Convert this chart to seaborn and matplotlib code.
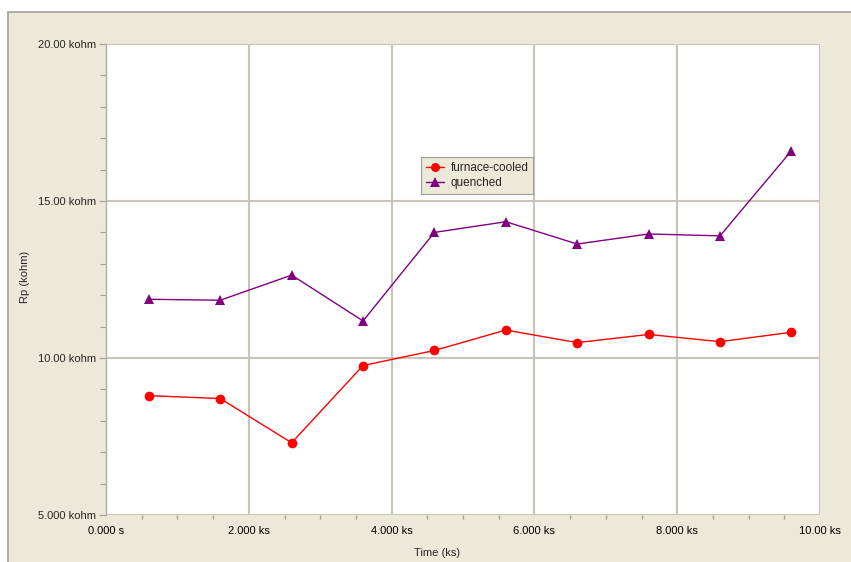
import numpy as np
import pandas as pd
import seaborn as sns
import matplotlib.pyplot as plt
from matplotlib.patches import Rectangle
from matplotlib.lines import Line2D
from matplotlib.ticker import MultipleLocator

# time in ks, resistance in kohm
time_ks = [0.6, 1.6, 2.6, 3.6, 4.6, 5.6, 6.6, 7.6, 8.6, 9.6]
furnace_cooled = [8.80, 8.71, 7.30, 9.76, 10.24, 10.89, 10.49, 10.75, 10.52, 10.82]
quenched = [11.87, 11.84, 12.64, 11.18, 14.00, 14.34, 13.63, 13.95, 13.89, 16.60]
series_names = ["furnace-cooled", "quenched"]
x_ticks = [0, 2, 4, 6, 8, 10]
x_labels = ["0.000 s", "2.000 ks", "4.000 ks", "6.000 ks", "8.000 ks", "10.00 ks"]
y_ticks = [5, 10, 15, 20]
y_labels = ["5.000 kohm", "10.00 kohm", "15.00 kohm", "20.00 kohm"]

df = pd.DataFrame({
    "time": time_ks * 2,
    "rp": furnace_cooled + quenched,
    "series": [series_names[0]] * len(time_ks) + [series_names[1]] * len(time_ks),
})

sns.set_theme(style="white")
plt.rcParams["font.family"] = ["Liberation Sans", "DejaVu Sans"]

beige = "#ECE9D8"
grid_col = "#C8C4B8"
colors = {"furnace-cooled": "#FF0000", "quenched": "#800080"}
markers = {"furnace-cooled": "o", "quenched": "^"}

fig = plt.figure(figsize=(8.51, 5.62), dpi=100, facecolor="white")
fig.patches.append(Rectangle((8 / 851, -0.01), 1.0, 1 - 12 / 562 + 0.01,
                             transform=fig.transFigure, facecolor=beige,
                             edgecolor="#A0A0A0", linewidth=1.2, zorder=-5))
ax = fig.add_axes([106 / 851, 1 - 515 / 562, 714 / 851, 471 / 562])
ax.set_facecolor("white")

sns.lineplot(data=df, x="time", y="rp", hue="series", style="series",
             palette=colors, markers=markers, dashes=False, linewidth=1,
             markersize=7, markeredgewidth=0, ax=ax, legend=False)

ax.set_xlim(0, 10)
ax.set_ylim(5, 20)
ax.set_xticks(x_ticks)
ax.set_xticklabels(x_labels, fontsize=8)
ax.set_yticks(y_ticks)
ax.set_yticklabels(y_labels, fontsize=8)
ax.xaxis.set_minor_locator(MultipleLocator(0.5))
ax.yaxis.set_minor_locator(MultipleLocator(1))
ax.tick_params(axis="x", which="major", length=0, pad=8, colors="black")
ax.tick_params(axis="x", which="minor", bottom=True, length=3, color="#A0A0A0")
ax.tick_params(axis="y", which="major", left=True, length=5, width=0.8, pad=2, color="#A0A0A0")
ax.tick_params(axis="y", which="minor", left=True, length=4, width=0.8, color="#A0A0A0")
ax.grid(True, which="major", color=grid_col, linewidth=1.5)
ax.set_axisbelow(True)
for side in ["top", "right", "bottom"]:
    ax.spines[side].set_visible(False)
ax.spines["left"].set_color("#B0B0A8")
ax.spines["left"].set_linewidth(1)

ax.set_xlabel("")
ax.set_ylabel("")
fig.text(437 / 851, 1 - 553 / 562, "Time (ks)", ha="center", va="center", fontsize=8)
fig.text(25 / 851, 1 - 277 / 562, "Rp (kohm)", ha="center", va="center",
         rotation=90, fontsize=8)

handles = [Line2D([0], [0], color=colors[n], marker=markers[n], markersize=6.5,
                  markeredgewidth=0, linewidth=1) for n in series_names]
leg = ax.legend(handles, series_names, loc="upper left",
                bbox_to_anchor=(0.441, 0.760), borderaxespad=0, fontsize=8.5,
                frameon=True, fancybox=False, framealpha=1, facecolor=beige,
                edgecolor="#A0A0A0", handlelength=1.6, handletextpad=0.5,
                borderpad=0.4, labelspacing=0.3)
leg.get_frame().set_linewidth(0.8)

fig.savefig("out.png", dpi=100, facecolor=fig.get_facecolor())
